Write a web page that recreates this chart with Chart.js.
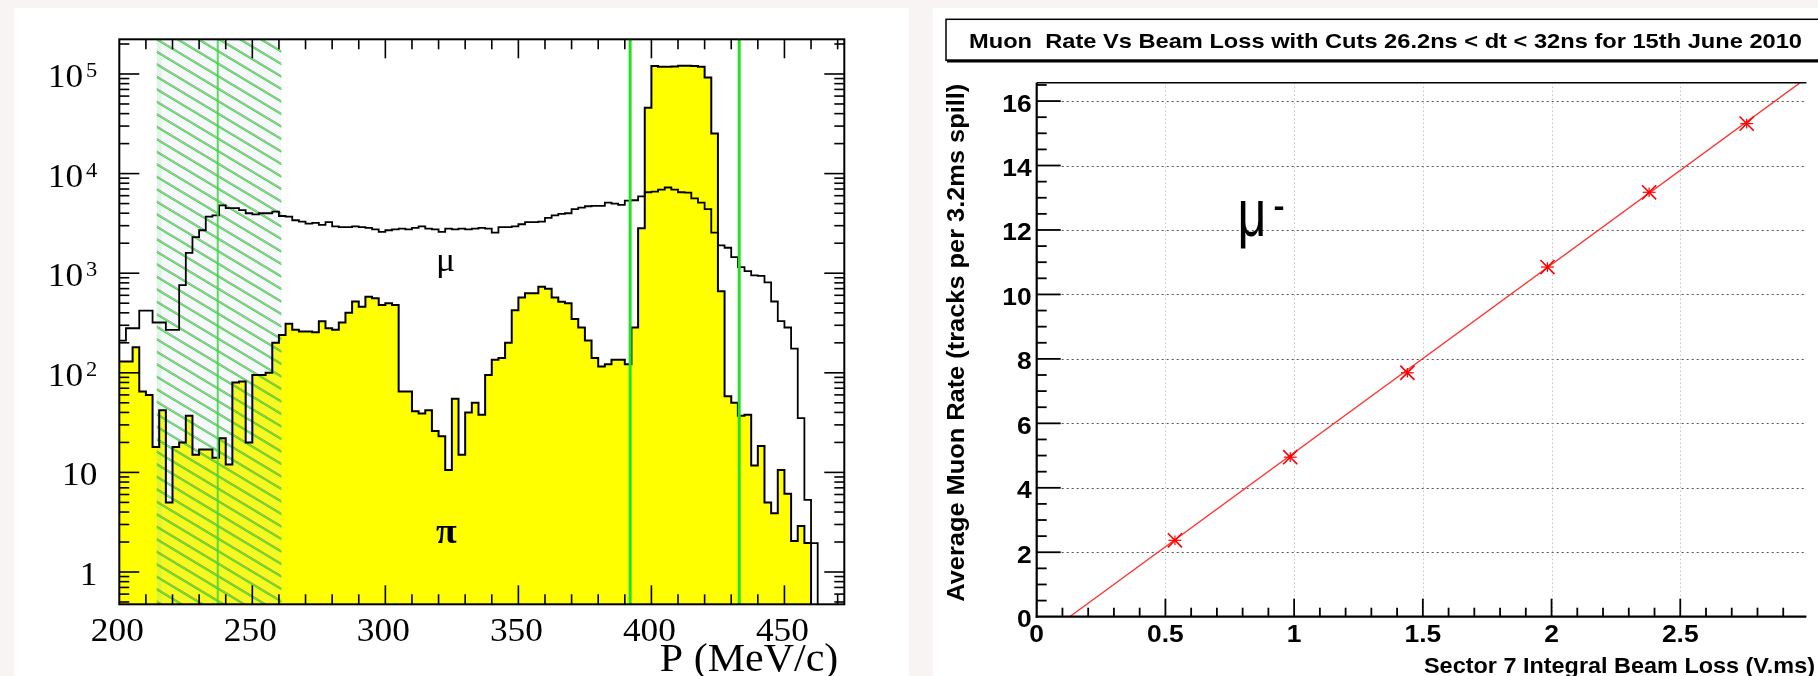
<!DOCTYPE html>
<html>
<head>
<meta charset="utf-8">
<title>Momentum spectra and muon rate</title>
<script src="https://cdn.jsdelivr.net/npm/chart.js@4.4.1/dist/chart.umd.min.js"></script>
<style>
  html, body { margin: 0; padding: 0; }
  body { width: 1818px; height: 676px; background: #f8f4f4; position: relative; overflow: hidden; }
  .panel { position: absolute; background: #ffffff; }
  #left-panel { left: 14px; top: 8px; width: 895px; height: 668px; }
  #right-panel { left: 933px; top: 8px; width: 885px; height: 668px; }
</style>
</head>
<body>
<div class="panel" id="left-panel"><canvas id="momentum-chart" width="895" height="668"></canvas></div>
<div class="panel" id="right-panel"><canvas id="rate-chart" width="885" height="668"></canvas></div>
<script>
// left plot: momentum spectra, 2.5 MeV/c bins starting at 200 MeV/c
const binStart = 200;
const binWidth = 2.5;
const pionCounts = [
  130, 130, 130, 180, 65, 60, 18, 42, 5, 18,
  20, 37, 15, 17, 17, 14, 22, 12, 80, 82,
  20, 95, 95, 100, 200, 240, 310, 270, 260, 260,
  255, 330, 280, 270, 320, 400, 520, 460, 580, 560,
  480, 500, 480, 65, 65, 41, 39, 42, 26, 23,
  10.6, 55, 15, 40, 50, 38, 95, 135, 141, 200,
  424, 571, 630, 630, 733, 697, 571, 518, 500, 347,
  285, 211, 141, 116, 122, 135, 135, 122, 285, 2820,
  45800, 120000, 118000, 118000, 119000, 121000, 121000, 120000, 118000, 92000,
  25200, 660, 58, 50, 37, 38, 11.7, 18.4, 5.0, 3.9,
  10.6, 6.1, 2.05, 2.9, 1.95, 0, 0, 0, 0
];
const muonCounts = [
  210, 210, 280, 280, 420, 420, 320, 320, 270, 270,
  760, 1600, 2300, 2700, 3700, 3800, 4800, 4500, 4500, 4300,
  4000, 3900, 4000, 4000, 4150, 3750, 3700, 3400, 3300, 3150,
  3200, 3050, 3250, 2950, 2900, 2900, 2950, 2900, 2850, 2750,
  2600, 2700, 2750, 2800, 2750, 2850, 2950, 2800, 2750, 2600,
  2800, 2750, 2800, 2750, 2800, 2850, 2800, 2550, 2900, 2900,
  2950, 3100, 3250, 3250, 3300, 3600, 3800, 3950, 4000, 4400,
  4550, 4700, 4750, 4750, 5100, 5000, 4850, 5350, 5400, 5900,
  6500, 6600, 6900, 7250, 6900, 6500, 6450, 5650, 5100, 4400,
  2550, 1900, 1800, 1450, 1150, 1050, 950, 940, 810, 520,
  330, 285, 175, 35, 5.3, 1.95, 0, 0, 0
];
const hatchRange = [214, 261];
const cutLines = [237, 392, 433];
const pTickLabels = [200, 250, 300, 350, 400, 450];
const countExponents = [0, 1, 2, 3, 4, 5];

// right plot: muon rate against integrated beam loss
const beamLoss = [0.537, 0.985, 1.44, 1.984, 2.379, 2.758];
const beamLossErr = [0.025, 0.025, 0.025, 0.025, 0.025, 0.025];
const muonRate = [2.37, 4.95, 7.57, 10.85, 13.17, 15.30];
const muonRateErr = [0.15, 0.15, 0.15, 0.15, 0.15, 0.15];
const fitLoss = [0.128, 3.0];
const fitRate = [0, 16.77];
const lossTickLabels = ['0', '0.5', '1', '1.5', '2', '2.5'];
const rateTickLabels = ['0', '2', '4', '6', '8', '10', '12', '14', '16'];

const SERIF = '"Liberation Serif", "DejaVu Serif", serif';
const SANS = '"Liberation Sans", Arial, sans-serif';
const yFloor = 0.474;
const yCeil = 2.23e5;

function histPoints(counts) {
  const pts = counts.map((c, i) => ({ x: binStart + i * binWidth, y: c > 0 ? c : yFloor / 10 }));
  pts.push({ x: binStart + counts.length * binWidth, y: pts[pts.length - 1].y });
  return pts;
}

function stretchText(ctx, text, x, y, sx, align) {
  const w = ctx.measureText(text).width * sx;
  const left = align === 'center' ? x - w / 2 : align === 'right' ? x - w : x;
  ctx.save();
  ctx.translate(left, y);
  ctx.scale(sx, 1);
  ctx.textAlign = 'left';
  ctx.fillText(text, 0, 0);
  ctx.restore();
  return w;
}

function seg(ctx, x1, y1, x2, y2) {
  ctx.beginPath();
  ctx.moveTo(x1, y1);
  ctx.lineTo(x2, y2);
  ctx.stroke();
}

const momentumDecor = {
  id: 'momentumDecor',
  afterDatasetDraw(chart, args) {
    if (args.index !== 0) return;
    // hatched band, drawn over the yellow fill but under the outlines
    const { ctx, chartArea: a, scales: { x } } = chart;
    const x0 = x.getPixelForValue(hatchRange[0]);
    const x1 = x.getPixelForValue(hatchRange[1]);
    const w = x1 - x0, slope = 0.6, gap = 12.5;
    ctx.save();
    ctx.beginPath();
    ctx.rect(x0, a.top, w, a.bottom - a.top);
    ctx.clip();
    ctx.fillStyle = 'rgba(190,215,235,0.14)';
    ctx.fillRect(x0, a.top, w, a.bottom - a.top);
    ctx.fillStyle = 'rgba(120,230,120,0.18)';
    ctx.fillRect(x0, a.top, 5, a.bottom - a.top);
    for (let yy = a.top - slope * w - gap; yy < a.bottom + gap; yy += gap) {
      ctx.strokeStyle = 'rgba(80,90,80,0.55)';
      ctx.lineWidth = 1;
      seg(ctx, x0, yy - 1, x1, yy - 1 + slope * w);
      ctx.strokeStyle = 'rgba(40,220,40,0.9)';
      ctx.lineWidth = 1.3;
      seg(ctx, x0, yy + 0.5, x1, yy + 0.5 + slope * w);
    }
    ctx.restore();
  },
  afterDatasetsDraw(chart) {
    const { ctx, chartArea: a, scales: { x } } = chart;
    ctx.save();
    cutLines.forEach((v, i) => {
      ctx.strokeStyle = i === 0 ? 'rgba(60,215,60,0.85)' : '#22e022';
      ctx.lineWidth = i === 0 ? 2 : 3;
      const px = x.getPixelForValue(v);
      seg(ctx, px, a.top, px, a.bottom);
    });
    ctx.restore();
  },
  afterDraw(chart) {
    const { ctx, chartArea: a, scales: { x, y } } = chart;
    ctx.save();
    ctx.strokeStyle = '#000';
    ctx.fillStyle = '#000';
    ctx.lineWidth = 2;
    ctx.strokeRect(a.left, a.top, a.right - a.left, a.bottom - a.top);

    ctx.lineWidth = 1.6;
    for (let v = binStart + 10; v < x.max; v += 10) {
      const px = x.getPixelForValue(v);
      const len = v % 50 === 0 ? 19 : 10;
      seg(ctx, px, a.bottom, px, a.bottom - len);
      seg(ctx, px, a.top, px, a.top + len);
    }
    for (let d = -1; d <= 5; d++) {
      for (let k = 1; k <= 9; k++) {
        const v = k * Math.pow(10, d);
        if (v < y.min || v > y.max) continue;
        const py = y.getPixelForValue(v);
        const len = k === 1 ? 20 : 10;
        seg(ctx, a.left, py, a.left + len, py);
        seg(ctx, a.right, py, a.right - len, py);
      }
    }

    // count labels 1, 10, 10^2 ...
    const labelRight = a.left - 22;
    countExponents.forEach(e => {
      const py = y.getPixelForValue(Math.pow(10, e));
      ctx.font = '33px ' + SERIF;
      if (e < 2) {
        stretchText(ctx, e === 0 ? '1' : '10', labelRight, py + 13, 1.07, 'right');
      } else {
        ctx.font = '21px ' + SERIF;
        const supW = ctx.measureText(String(e)).width * 1.07;
        stretchText(ctx, String(e), labelRight, py + 3, 1.07, 'right');
        ctx.font = '33px ' + SERIF;
        stretchText(ctx, '10', labelRight - supW - 3, py + 13, 1.07, 'right');
      }
    });

    ctx.font = '33px ' + SERIF;
    pTickLabels.forEach(v => {
      stretchText(ctx, String(v), x.getPixelForValue(v) - 2, a.bottom + 37, 1.07, 'center');
    });
    ctx.font = '40px ' + SERIF;
    stretchText(ctx, 'P (MeV/c)', a.right - 6, a.bottom + 67, 1.05, 'right');

    ctx.font = '34px ' + SERIF;
    stretchText(ctx, 'μ', x.getPixelForValue(319), y.getPixelForValue(1052), 1.05, 'left');
    ctx.font = 'bold 36px ' + SERIF;
    stretchText(ctx, 'π', x.getPixelForValue(319), y.getPixelForValue(1.95), 1.05, 'left');
    ctx.restore();
  }
};

new Chart(document.getElementById('momentum-chart'), {
  type: 'line',
  data: {
    datasets: [
      {
        data: histPoints(pionCounts),
        stepped: 'after',
        fill: 'start',
        backgroundColor: '#ffff00',
        borderColor: 'rgba(0,0,0,0)',
        pointRadius: 0,
        order: 3
      },
      {
        label: 'π',
        data: histPoints(pionCounts),
        stepped: 'after',
        fill: false,
        borderColor: '#000',
        borderWidth: 2,
        pointRadius: 0,
        order: 2
      },
      {
        label: 'μ',
        data: histPoints(muonCounts),
        stepped: 'after',
        fill: false,
        borderColor: '#000',
        borderWidth: 1.8,
        pointRadius: 0,
        order: 1
      }
    ]
  },
  options: {
    responsive: false,
    animation: false,
    layout: { padding: { left: 105.3, top: 31.3, right: 64.7, bottom: 71.7 } },
    scales: {
      x: { type: 'linear', min: binStart, max: 472.5, display: false },
      y: { type: 'logarithmic', min: yFloor, max: yCeil, display: false }
    },
    plugins: { legend: { display: false }, tooltip: { enabled: false } }
  },
  plugins: [momentumDecor]
});

const rateDecor = {
  id: 'rateDecor',
  beforeDatasetsDraw(chart) {
    const { ctx, chartArea: a, scales: { x, y } } = chart;
    ctx.save();
    ctx.lineWidth = 1;
    ctx.strokeStyle = '#555';
    ctx.setLineDash([2, 3]);
    rateTickLabels.slice(1).forEach(t => {
      const py = Math.round(y.getPixelForValue(Number(t))) + 0.5;
      seg(ctx, a.left + 25, py, a.right, py);
    });
    ctx.strokeStyle = '#aaa';
    ctx.setLineDash([1, 3]);
    lossTickLabels.slice(1).forEach(t => {
      const px = Math.round(x.getPixelForValue(Number(t))) + 0.5;
      seg(ctx, px, a.top, px, a.bottom);
    });
    ctx.restore();
  },
  afterDatasetsDraw(chart) {
    const { ctx, scales: { x, y } } = chart;
    ctx.save();
    ctx.strokeStyle = '#ff0000';
    ctx.lineWidth = 1.2;
    beamLoss.forEach((b, i) => {
      const r = muonRate[i];
      seg(ctx, x.getPixelForValue(b - beamLossErr[i]), y.getPixelForValue(r),
               x.getPixelForValue(b + beamLossErr[i]), y.getPixelForValue(r));
      seg(ctx, x.getPixelForValue(b), y.getPixelForValue(r - muonRateErr[i]),
               x.getPixelForValue(b), y.getPixelForValue(r + muonRateErr[i]));
    });
    ctx.restore();
  },
  afterDraw(chart) {
    const { ctx, chartArea: a, scales: { x, y } } = chart;
    ctx.save();
    ctx.strokeStyle = '#000';
    ctx.fillStyle = '#000';
    ctx.lineWidth = 2.2;
    seg(ctx, a.left, a.top, a.left, a.bottom + 1);
    seg(ctx, a.left - 1, a.bottom, a.right, a.bottom);
    ctx.lineWidth = 1.5;
    seg(ctx, a.left, a.top, a.right, a.top);

    ctx.lineWidth = 1.8;
    for (let k = 1; k <= 33; k++) {
      const v = k / 2;
      if (v > y.max) break;
      const py = y.getPixelForValue(v);
      seg(ctx, a.left, py, a.left + (k % 4 === 0 ? 24 : 10), py);
    }
    for (let k = 1; k <= 29; k++) {
      const px = x.getPixelForValue(k / 10);
      seg(ctx, px, a.bottom, px, a.bottom - (k % 5 === 0 ? 18 : 9));
    }

    ctx.font = 'bold 24px ' + SANS;
    rateTickLabels.forEach(t => {
      stretchText(ctx, t, a.left - 5, y.getPixelForValue(Number(t)) + 10.5, 1.1, 'right');
    });
    lossTickLabels.forEach(t => {
      stretchText(ctx, t, x.getPixelForValue(Number(t)), a.bottom + 25, 1.1, 'center');
    });

    // axis titles
    const yTitle = 'Average Muon Rate (tracks per 3.2ms spill)';
    ctx.font = 'bold 23px ' + SANS;
    ctx.save();
    ctx.translate(25, a.top + 1);
    ctx.rotate(-Math.PI / 2);
    ctx.textBaseline = 'middle';
    stretchText(ctx, yTitle, 0, 0, 518 / ctx.measureText(yTitle).width, 'right');
    ctx.restore();
    const xTitle = 'Sector 7 Integral Beam Loss (V.ms)';
    ctx.font = 'bold 22px ' + SANS;
    stretchText(ctx, xTitle, 882, 665, 391 / ctx.measureText(xTitle).width, 'right');

    // title box
    ctx.fillStyle = '#fff';
    ctx.fillRect(13, 11.3, 900, 41);
    ctx.lineWidth = 1.5;
    ctx.strokeRect(13, 11.3, 900, 41);
    ctx.fillStyle = '#000';
    ctx.fillRect(14, 51.5, 900, 3);
    const title = 'Muon  Rate Vs Beam Loss with Cuts 26.2ns < dt < 32ns for 15th June 2010';
    ctx.font = 'bold 21px ' + SANS;
    stretchText(ctx, title, 452.5, 39.5, 833 / ctx.measureText(title).width, 'center');

    // particle label
    const mx = x.getPixelForValue(0.78), my = y.getPixelForValue(11.82);
    ctx.font = '67px ' + SANS;
    stretchText(ctx, 'μ', mx, my, 29 / ctx.measureText('μ').width, 'left');
    ctx.font = 'bold 30px ' + SANS;
    stretchText(ctx, '-', mx + 36, my - 20, 1.1, 'left');
    ctx.restore();
  }
};

new Chart(document.getElementById('rate-chart'), {
  type: 'scatter',
  data: {
    datasets: [
      {
        label: 'data',
        data: beamLoss.map((b, i) => ({ x: b, y: muonRate[i] })),
        pointStyle: 'crossRot',
        pointRadius: 10,
        borderColor: '#ff0000',
        backgroundColor: '#ff0000',
        borderWidth: 1.6,
        showLine: false
      },
      {
        label: 'fit',
        data: fitLoss.map((b, i) => ({ x: b, y: fitRate[i] })),
        showLine: true,
        borderColor: 'rgba(255,30,30,0.9)',
        borderWidth: 1.4,
        pointRadius: 0
      }
    ]
  },
  options: {
    responsive: false,
    animation: false,
    layout: { padding: { left: 103.7, top: 74.7, right: 0, bottom: 59.3 } },
    scales: {
      x: { type: 'linear', min: 0, max: 2.99, display: false },
      y: { type: 'linear', min: 0, max: 16.57, display: false }
    },
    plugins: { legend: { display: false }, tooltip: { enabled: false } }
  },
  plugins: [rateDecor]
});
</script>
</body>
</html>
